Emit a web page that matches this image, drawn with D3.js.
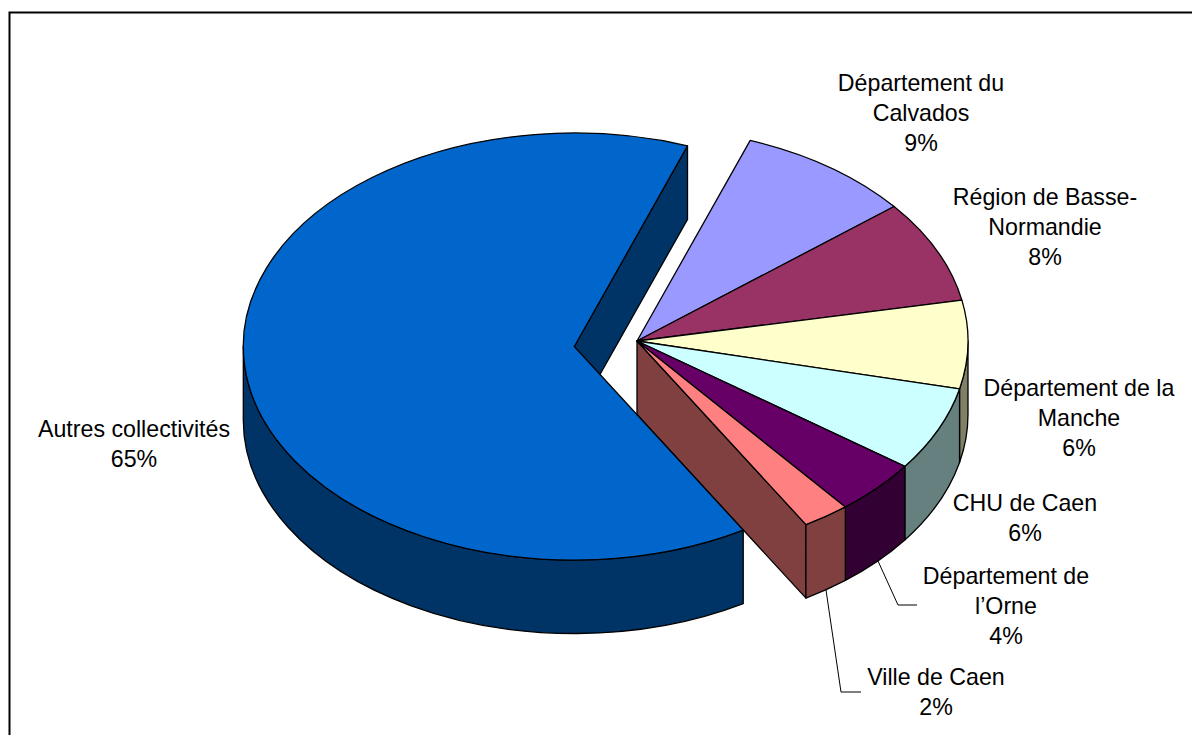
<!DOCTYPE html>
<html><head><meta charset="utf-8">
<script src="https://cdn.jsdelivr.net/npm/d3@7"></script>
<style>html,body{margin:0;padding:0;background:#fff}svg{display:block}text{font-family:"Liberation Sans",Arial,sans-serif;font-size:23.2px;fill:#000}</style>
</head><body><svg id="c" width="1192" height="735"></svg>
<script>
// Data
const categories = ["Département du Calvados","Région de Basse-Normandie","Département de la Manche","CHU de Caen","Département de l’Orne","Ville de Caen","Autres collectivités"];
const shares = [8.6,7.78,6.67,6.39,4.17,2.31,64.08];
const percentLabels = ["9%","8%","6%","6%","4%","2%","65%"];
const labelLines = [["Département du","Calvados"],["Région de Basse-","Normandie"],["Département de la","Manche"],["CHU de Caen"],["Département de","l’Orne"],["Ville de Caen"],["Autres collectivités"]];
const topColors = ["#9999FF","#993366","#FFFFCC","#CCFFFF","#660066","#FF8080","#0066CC"];
const wallColors = ["#4D4D80","#4D1A33","#808066","#668080","#330033","#804040","#003366"];

// Layout
const W=1192,H=735,rx=331,ry=213.5,depth=73.5;
const centerSmall=[637,341], centerBig=[574.3,346.5];
const labelPos=[[921,91],[1045,205],[1079,396],[1025,511],[1006,584],[936,685],[134,437]];
const lineH=30;
const leaders=[null,null,null,null,[[878,561],[898,605],[917,605]],[[826,590],[841,692],[861,692]],null];

const svg=d3.select("#c");
svg.append("rect").attr("x",9.5).attr("y",12.5).attr("width",1300).attr("height",900).attr("fill","#fff").attr("stroke","#000").attr("stroke-width",2);

const pie=d3.pie().sort(null).value(d=>d).startAngle(20*Math.PI/180).endAngle(380*Math.PI/180);
const arcs=pie(shares).map((a,i)=>({...a,i,c:i===6?centerBig:centerSmall}));
const P=(c,t,dy=0)=>[c[0]+rx*Math.sin(t),c[1]-ry*Math.cos(t)+dy];
const ell=(p,large,sweep)=>`A${rx},${ry} 0 ${large} ${sweep} ${p[0]},${p[1]}`;
function topPath(a){const p0=P(a.c,a.startAngle),p1=P(a.c,a.endAngle);
  return `M${a.c}L${p0}${ell(p1,a.endAngle-a.startAngle>Math.PI?1:0,1)}Z`;}
function outerWall(a){const s=Math.max(a.startAngle,Math.PI/2),e=Math.min(a.endAngle,3*Math.PI/2);
  if(e<=s)return null;const p0=P(a.c,s),p1=P(a.c,e),q1=P(a.c,e,depth),q0=P(a.c,s,depth);
  return `M${p0}${ell(p1,e-s>Math.PI?1:0,1)}L${q1}${ell(q0,e-s>Math.PI?1:0,0)}Z`;}
function cutWall(c,t){const e=P(c,t);return [c,e,P(c,t,depth),[c[0],c[1]+depth]];}
const line=d3.line();
const st=s=>s.attr("stroke","#000").attr("stroke-width",1.3).attr("stroke-linejoin","round");

const small=arcs.filter(a=>a.i!==6), big=arcs[6];
const gS=svg.append("g"), gB=svg.append("g");
// small-group cut face, then outer walls, then tops
const ville=arcs[5];
gS.append("path").attr("d",line(cutWall(centerSmall,ville.endAngle))+"Z").attr("fill",wallColors[5]).call(st);
gS.selectAll(".w").data(small.filter(a=>outerWall(a))).join("path").attr("d",outerWall).attr("fill",a=>wallColors[a.i]).call(st);
gS.selectAll(".t").data(small).join("path").attr("d",topPath).attr("fill",a=>topColors[a.i]).call(st);
// big slice: inner cut face, outer wall, top
gB.append("path").attr("d",line(cutWall(centerBig,big.endAngle))+"Z").attr("fill",wallColors[6]).call(st);
gB.append("path").attr("d",outerWall(big)).attr("fill",wallColors[6]).call(st);
gB.append("path").attr("d",topPath(big)).attr("fill",topColors[6]).call(st);

// leaders
leaders.forEach(l=>{if(l)svg.append("path").attr("d",line(l)).attr("fill","none").attr("stroke","#000").attr("stroke-width",1);});
// labels
categories.forEach((c,i)=>{
  const t=svg.append("text").attr("text-anchor","middle");
  labelLines[i].concat(percentLabels[i]).forEach((s,k)=>t.append("tspan").attr("x",labelPos[i][0]).attr("y",labelPos[i][1]+k*lineH).text(s));
});
</script></body></html>
